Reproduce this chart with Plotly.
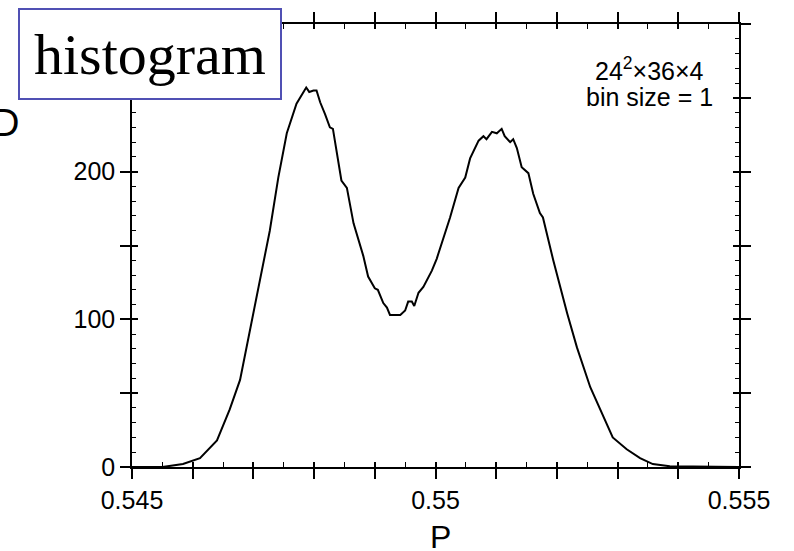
import plotly.graph_objects as go

# histogram of P
p_vals = [0.5450, 0.5455, 0.54584, 0.54612, 0.54640, 0.54661, 0.54678, 0.54691,
          0.54706, 0.54719, 0.54727, 0.54741, 0.54755, 0.54771, 0.54782, 0.54787,
          0.54792, 0.54799, 0.54804, 0.54810, 0.54818, 0.54826, 0.54831, 0.54845,
          0.54854, 0.54865, 0.54881, 0.54889, 0.54900, 0.54905, 0.54914, 0.54920,
          0.54925, 0.54942, 0.54950, 0.54955, 0.54961, 0.54965, 0.54972, 0.54980,
          0.54994, 0.55002, 0.55024, 0.55038, 0.55049, 0.55057, 0.55071, 0.55079,
          0.55084, 0.55093, 0.55101, 0.55109, 0.55114, 0.55123, 0.55128, 0.55134,
          0.55142, 0.55153, 0.55161, 0.55172, 0.55177, 0.55194, 0.55217, 0.55233,
          0.55255, 0.55271, 0.55292, 0.55315, 0.55337, 0.55358, 0.55386, 0.5550]
counts = [0, 0, 2, 6, 18, 39, 59, 86,
          118, 145, 160, 196, 226, 246, 253, 257,
          254, 255, 255, 247, 239, 230, 229, 194,
          189, 165, 143, 129, 121, 120, 111, 108,
          103, 103, 106, 112, 112, 109, 118, 122,
          133, 141, 169, 189, 196, 209, 221, 224,
          222, 227, 226, 229, 224, 220, 222, 216,
          203, 199, 185, 172, 169, 140, 104, 81,
          54, 39, 20, 12, 6, 2, 0.5, 0]

x_label_vals = [0.545, 0.550, 0.555]
x_labels = ["0.545", "0.55", "0.555"]
x_major = [0.545, 0.546, 0.547, 0.548, 0.549, 0.550, 0.551, 0.552, 0.553, 0.554, 0.555]
y_label_vals = [0, 100, 200]
y_labels = ["0", "100", "200"]
y_major = [0, 50, 100, 150, 200, 250, 300]

fig = go.Figure()
fig.add_trace(go.Scatter(x=p_vals, y=counts, mode="lines",
                         line=dict(color="black", width=2), hoverinfo="skip"))
# same curve on the overlay axes (transparent) so the inner ticks get drawn
fig.add_trace(go.Scatter(x=p_vals, y=counts, mode="lines", xaxis="x2", yaxis="y2",
                         line=dict(color="rgba(0,0,0,0)", width=0), hoverinfo="skip"))

font_tick = dict(family="Liberation Sans, Arial, sans-serif", size=25, color="black")
xr = [0.545, 0.555]
yr = [0, 300]

fig.update_layout(
    width=794, height=551,
    margin=dict(l=132, r=55, t=24, b=84),
    paper_bgcolor="white", plot_bgcolor="white",
    showlegend=False,
    # labelled axes: long outer ticks at every major position
    xaxis=dict(range=xr, tickmode="array", tickvals=x_label_vals, ticktext=x_labels,
               ticks="outside", ticklen=10, tickwidth=1.5, tickcolor="black",
               minor=dict(tickmode="array", tickvals=x_major, ticks="outside",
                          ticklen=10, tickwidth=1.5, tickcolor="black", showgrid=False),
               showline=True, linecolor="black", linewidth=1.5, mirror="allticks",
               showgrid=False, zeroline=False, tickfont=font_tick),
    yaxis=dict(range=yr, tickmode="array", tickvals=y_label_vals, ticktext=y_labels,
               ticks="outside", ticklen=10, tickwidth=1.5, tickcolor="black",
               minor=dict(tickmode="array", tickvals=y_major, ticks="outside",
                          ticklen=10, tickwidth=1.5, tickcolor="black", showgrid=False),
               showline=True, linecolor="black", linewidth=1.5, mirror="allticks",
               showgrid=False, zeroline=False, tickfont=font_tick),
    # overlay axes: short inner ticks (majors + minors)
    xaxis2=dict(range=xr, overlaying="x", side="bottom", tickmode="array", tickvals=x_major,
                ticks="inside", ticklen=5, tickwidth=1.5, tickcolor="black",
                showticklabels=False, showline=False, mirror="allticks",
                showgrid=False, zeroline=False,
                minor=dict(tickmode="linear", tick0=0.545, dtick=0.0005, ticks="inside",
                           ticklen=5, tickwidth=1, tickcolor="black", showgrid=False)),
    yaxis2=dict(range=yr, overlaying="y", side="left", tickmode="array", tickvals=y_major,
                ticks="inside", ticklen=6, tickwidth=1.5, tickcolor="black",
                showticklabels=False, showline=False, mirror="allticks",
                showgrid=False, zeroline=False,
                minor=dict(tickmode="linear", tick0=0, dtick=10, ticks="inside",
                           ticklen=4, tickwidth=1, tickcolor="black", showgrid=False)),
)

fig.add_annotation(text="histogram", xref="paper", yref="paper", x=18 / 607, y=413 / 443,
                   xanchor="center", yanchor="middle", showarrow=False,
                   font=dict(family="Liberation Serif, Times New Roman, serif", size=58, color="black"),
                   width=260, height=88, borderpad=0, bordercolor="#5050b4", borderwidth=2,
                   bgcolor="white")
fig.add_annotation(text="24<sup>2</sup>×36×4", xref="paper", yref="paper",
                   x=(649 - 132) / 607, y=(467 - 69) / 443, xanchor="center", yanchor="middle",
                   showarrow=False,
                   font=dict(family="Liberation Sans, Arial, sans-serif", size=25, color="black"))
fig.add_annotation(text="bin size = 1", xref="paper", yref="paper",
                   x=(649 - 132) / 607, y=(467 - 97) / 443, xanchor="center", yanchor="middle",
                   showarrow=False,
                   font=dict(family="Liberation Sans, Arial, sans-serif", size=25, color="black"))
fig.add_annotation(text="P", xref="paper", yref="paper",
                   x=(440 - 132) / 607, y=(467 - 537) / 443, xanchor="center", yanchor="middle",
                   showarrow=False,
                   font=dict(family="Liberation Sans, Arial, sans-serif", size=32, color="black"))
# y-axis title, mostly cut off at the left edge of the page
fig.add_annotation(text="D", xref="paper", yref="paper",
                   x=(21 - 132) / 607, y=(467 - 123) / 443, xanchor="right", yanchor="middle",
                   showarrow=False,
                   font=dict(family="Liberation Sans, Arial, sans-serif", size=38, color="black"))

# drop the default body margin so the 794x551 figure fills the window exactly
fig.write_html("out.html", config={"displayModeBar": False},
               post_script="document.body.style.margin='0';")
